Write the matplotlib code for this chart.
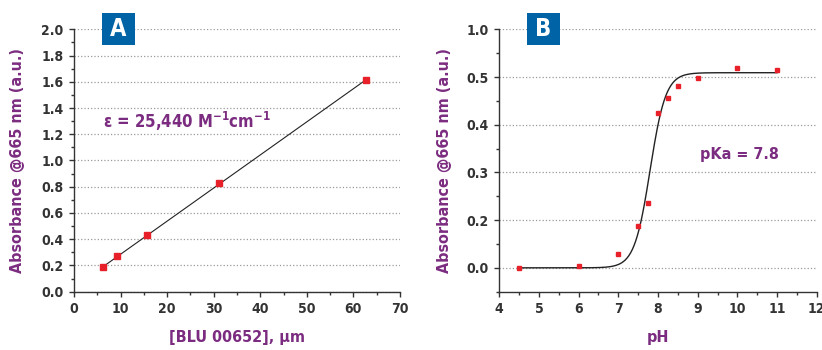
import numpy as np
import matplotlib
matplotlib.use("Agg")
import matplotlib.pyplot as plt
from matplotlib.patches import Rectangle

# panel A: calibration
conc = [6.3, 9.3, 15.7, 31.2, 62.6]
abs_a = [0.186, 0.27, 0.43, 0.826, 1.61]

# panel B: pH titration (y values are positions on the drawn axis)
ph = [4.5, 6.0, 7.0, 7.5, 7.75, 8.0, 8.25, 8.5, 9.0, 10.0, 11.0]
abs_b = [-0.001, 0.003, 0.028, 0.087, 0.135, 0.325, 0.357, 0.382, 0.398, 0.418, 0.415]
b_ticks = [0.0, 0.1, 0.2, 0.3, 0.4, 0.5]
b_ticklabels = ["0.0", "0.2", "0.3", "0.4", "0.5", "1.0"]

# fitted sigmoid shown in B
pka = 7.8
hill = 2.2
plateau = 0.409

purple = "#7b2c80"
red = "#e8202a"
blue = "#0063a5"
dark = "#333333"

plt.rcParams['font.family'] = ['DejaVu Sans']
plt.rcParams['font.stretch'] = 'condensed'
plt.rcParams['font.weight'] = 'bold'
plt.rcParams['axes.labelweight'] = 'bold'

fig = plt.figure(figsize=(8.22, 3.5), dpi=100)
axA = fig.add_axes([0.090, 0.1666, 0.3966, 0.7497])
axB = fig.add_axes([0.6074, 0.1666, 0.3862, 0.7497])


def style(ax):
    for s in ['top', 'right']:
        ax.spines[s].set_visible(False)
    for s in ['left', 'bottom']:
        ax.spines[s].set_color(dark)
        ax.spines[s].set_linewidth(1.0)
    ax.tick_params(which='major', direction='out', length=3.6, width=1.0,
                   color=dark, labelcolor=dark, labelsize=10, pad=4)
    ax.tick_params(which='minor', direction='out', length=2.5, width=1.0, color=dark)
    ax.grid(axis='y', which='major', linestyle=':', color='#9a9a9a', linewidth=0.9)
    ax.set_axisbelow(True)
    ax.set_ylabel("Absorbance @665 nm (a.u.)", color=purple, fontsize=11.5)
    ax.yaxis.set_label_coords(-0.15, 0.5)


# --- A ---
style(axA)
axA.plot(conc, abs_a, 's', color=red, markersize=5, zorder=3)
k, b = np.polyfit(conc, abs_a, 1)
xs = np.array([min(conc), max(conc)])
axA.plot(xs, k * xs + b, color='#222222', linewidth=0.8, zorder=2)
axA.set_xlim(0, 70)
axA.set_ylim(0, 2.0)
axA.set_xticks(np.arange(0, 71, 10))
axA.set_xticks(np.arange(5, 70, 10), minor=True)
axA.set_yticks(np.arange(0, 2.01, 0.2))
axA.set_yticks(np.arange(0.1, 2.0, 0.2), minor=True)
axA.set_yticklabels(["%.1f" % v for v in np.arange(0, 2.01, 0.2)])
axA.set_xlabel("[BLU 00652], \u00b5m", color=purple, fontsize=11.5, labelpad=10)
axA.text(6.2, 1.30, r"\u03b5 = 25,440 M$^{\mathbf{-1}}$cm$^{\mathbf{-1}}$".replace(r"\u03b5", "\u03b5"),
         color=purple, fontsize=12, ha='left', va='center')

# --- B ---
style(axB)
axB.plot(ph, abs_b, 's', color=red, markersize=3, zorder=3)
xc = np.linspace(min(ph), max(ph), 300)
axB.plot(xc, plateau / (1 + 10 ** (hill * (pka - xc))), color='#222222',
         linewidth=1.0, zorder=2)
axB.set_xlim(4, 12)
axB.set_ylim(-0.05, 0.5)
axB.set_xticks(range(4, 13))
axB.set_xticks(np.arange(4.5, 12, 1), minor=True)
axB.set_yticks(b_ticks)
axB.set_yticklabels(b_ticklabels)
axB.set_yticks(np.arange(-0.05, 0.5, 0.1), minor=True)
axB.set_xlabel("pH", color=purple, fontsize=11.5, labelpad=10)
axB.text(10.06, 0.237, "pKa = 7.8", color=purple, fontsize=11.5,
         ha='center', va='center')

# panel badges
for x0, letter in [(102, "A"), (527, "B")]:
    fig.patches.append(Rectangle((x0 / 822, 1 - 44.5 / 350), 33 / 822, 31.5 / 350,
                                 transform=fig.transFigure, facecolor=blue,
                                 edgecolor='none'))
    fig.text((x0 + 16.5) / 822, 1 - 28.7 / 350, letter, color='white',
             fontsize=17, ha='center', va='center')

fig.savefig("out.png", dpi=100)
